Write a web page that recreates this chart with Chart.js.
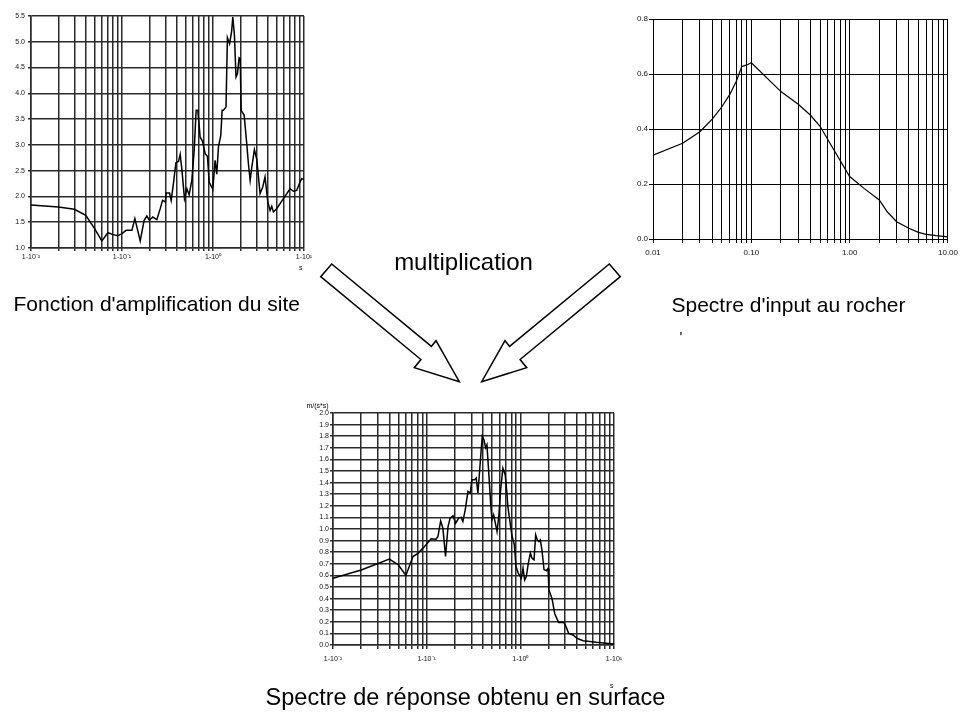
<!DOCTYPE html>
<html>
<head>
<meta charset="utf-8">
<script src="https://cdn.jsdelivr.net/npm/chart.js@4/dist/chart.umd.min.js"></script>
<style>
html, body { margin: 0; padding: 0; background: #fff; }
body { width: 963px; height: 718px; position: relative; overflow: hidden;
       font-family: "Liberation Sans", Arial, sans-serif; color: #000; }
canvas { position: absolute; }
.t { position: absolute; white-space: nowrap; line-height: 1; }
</style>
</head>
<body>
<canvas id="amp" width="320" height="275" style="left:0px;top:0px"></canvas>
<canvas id="inp" width="363" height="275" style="left:600px;top:0px"></canvas>
<canvas id="res" width="350" height="300" style="left:290px;top:380px"></canvas>

<svg width="963" height="718" style="position:absolute;left:0;top:0">
  <polygon points="331.7,264 431.4,346.4 436,340.7 459.3,381.7 414.3,367.7 420.9,359.5 320.7,276.7"
           fill="#fff" stroke="#000" stroke-width="1.5" stroke-linejoin="miter"/>
  <polygon points="609.3,264 509.6,346.4 505,340.7 481.7,381.7 526.7,367.7 520.1,359.5 620.3,276.7"
           fill="#fff" stroke="#000" stroke-width="1.5" stroke-linejoin="miter"/>
</svg>

<div class="t" style="left:263.5px;width:400px;text-align:center;top:250.4px;font-size:24px">multiplication</div>
<div class="t" style="left:13.5px;top:292.9px;font-size:21px">Fonction d'amplification du site</div>
<div class="t" style="left:671.5px;top:293.9px;font-size:21px">Spectre d'input au rocher</div>
<div class="t" style="left:679.5px;top:328.7px;font-size:15px">'</div>
<div class="t" style="left:165.5px;width:600px;text-align:center;top:686.4px;font-size:23.5px">Spectre de réponse obtenu en surface</div>
<div class="t" style="left:299px;top:264px;font-size:7px">s</div>
<div class="t" style="left:610px;top:682px;font-size:7px">s</div>
<div class="t" style="left:292.5px;width:50px;text-align:center;top:402px;font-size:7px">m/(s*s)</div>

<script>
// grid positions of the log period axes (0.01 .. 10 s)
const logGrid = [0.01, 0.02, 0.03, 0.04, 0.05, 0.06, 0.07, 0.08, 0.09,
                 0.1, 0.2, 0.3, 0.4, 0.5, 0.6, 0.7, 0.8, 0.9,
                 1, 2, 3, 4, 5, 6, 7, 8, 9, 10];
const decades = [0.01, 0.1, 1, 10];
const powLabels = ['1-10\u207B\u00B2', '1-10\u207B\u00B9', '1-10\u2070', '1-10\u00B9'];
const decLabels = ['0.01', '0.10', '1.00', '10.00'];

// amplification function of the site
const ampX = [0.01, 0.02, 0.03, 0.04, 0.05, 0.06, 0.07, 0.08, 0.09, 0.1,
              0.111, 0.1285, 0.1385, 0.1585, 0.175, 0.1876, 0.2, 0.218, 0.2415, 0.263,
              0.279, 0.30, 0.306, 0.333, 0.347, 0.368, 0.391, 0.418, 0.436, 0.455,
              0.486, 0.516, 0.547, 0.585, 0.621, 0.653, 0.681, 0.722, 0.766, 0.820,
              0.869, 0.907, 0.995, 1.055, 1.10, 1.148, 1.218, 1.26, 1.30, 1.39,
              1.44, 1.52, 1.60, 1.65, 1.72, 1.79, 1.856, 1.935, 1.99, 2.04,
              2.20, 2.35, 2.45, 2.56, 2.67, 2.85, 3.03, 3.29, 3.52, 3.73,
              4.0, 4.24, 4.42, 4.61, 5.01, 5.94, 7.03, 7.65, 8.32, 9.04,
              9.44, 10];
const ampY = [1.834, 1.795, 1.75, 1.634, 1.375, 1.136, 1.297, 1.259, 1.239, 1.278,
              1.343, 1.343, 1.569, 1.136, 1.537, 1.62, 1.537, 1.60, 1.55, 1.763,
              1.924, 1.892, 2.067, 2.067, 1.924, 2.26, 2.655, 2.68, 2.816, 2.52,
              1.957, 2.15, 2.034, 2.31, 2.894, 3.67, 3.67, 3.15, 3.075, 2.83,
              2.78, 2.28, 2.138, 2.70, 2.43, 2.96, 3.185, 3.67, 3.67, 3.734,
              5.08, 4.96, 5.19, 5.48, 5.124, 4.316, 4.38, 4.69, 4.67, 3.67,
              3.573, 3.02, 2.635, 2.31, 2.57, 2.907, 2.713, 2.054, 2.183, 2.377,
              1.892, 1.73, 1.808, 1.70, 1.763, 1.957, 2.15, 2.10, 2.118, 2.28,
              2.345, 2.325];
const ampYTicks = [1.0, 1.5, 2.0, 2.5, 3.0, 3.5, 4.0, 4.5, 5.0, 5.5];

// input spectrum on rock
const inpX = [0.01, 0.02, 0.03, 0.04, 0.05, 0.06, 0.07, 0.08, 0.09, 0.1,
              0.2, 0.3, 0.4, 0.5, 0.646, 1.0, 1.40, 2.0, 2.41, 3.0,
              4.0, 5.0, 6.0, 7.6, 10];
const inpY = [0.305, 0.348, 0.39, 0.436, 0.48, 0.524, 0.572, 0.627, 0.633, 0.641,
              0.536, 0.49, 0.45, 0.41, 0.342, 0.227, 0.184, 0.142, 0.099, 0.063,
              0.039, 0.024, 0.017, 0.012, 0.008];
const inpYTicks = [0.0, 0.2, 0.4, 0.6, 0.8];

// response spectrum at the surface
const resX = [0.01, 0.02, 0.04, 0.05, 0.06, 0.0714, 0.0808, 0.0913, 0.1016, 0.1116,
              0.126, 0.132, 0.141, 0.149, 0.159, 0.169, 0.178, 0.191, 0.204, 0.2195,
              0.234, 0.2435, 0.258, 0.276, 0.292, 0.304, 0.325, 0.338, 0.3525, 0.367,
              0.392, 0.409, 0.426, 0.440, 0.458, 0.482, 0.498, 0.519, 0.541, 0.564,
              0.591, 0.616, 0.652, 0.689, 0.719, 0.736, 0.779, 0.817, 0.864, 0.899,
              0.950, 1.025, 1.068, 1.112, 1.159, 1.217, 1.279, 1.333, 1.40, 1.458,
              1.52, 1.58, 1.635, 1.70, 1.79, 1.895, 1.975, 2.02, 2.18, 2.33,
              2.56, 2.85, 2.97, 3.28, 3.65, 4.03, 4.67, 6.47, 10];
const resY = [0.576, 0.647, 0.74, 0.69, 0.60, 0.763, 0.79, 0.835, 0.878, 0.915,
              0.912, 0.935, 1.07, 1.007, 0.763, 1.02, 1.094, 1.114, 1.05, 1.094,
              1.10, 1.065, 1.165, 1.324, 1.31, 1.424, 1.424, 1.439, 1.31, 1.496,
              1.80, 1.77, 1.70, 1.727, 1.51, 1.223, 1.079, 1.122, 1.05, 0.978,
              1.122, 1.338, 1.525, 1.468, 1.309, 1.194, 1.05, 0.935, 0.863, 0.676,
              0.619, 0.576, 0.662, 0.561, 0.59, 0.705, 0.791, 0.748, 0.734, 0.95,
              0.906, 0.892, 0.906, 0.82, 0.65, 0.64, 0.66, 0.475, 0.40, 0.27,
              0.195, 0.195, 0.187, 0.10, 0.086, 0.058, 0.037, 0.023, 0.009];
const resYTicks = [0.0, 0.1, 0.2, 0.3, 0.4, 0.5, 0.6, 0.7, 0.8, 0.9, 1.0,
                   1.1, 1.2, 1.3, 1.4, 1.5, 1.6, 1.7, 1.8, 1.9, 2.0];

const FONT = '"Liberation Sans", Arial, sans-serif';

function drawChart(id, o) {
  new Chart(document.getElementById(id), {
    type: 'line',
    data: {
      datasets: [{
        data: o.xs.map((x, i) => ({ x: x, y: o.ys[i] })),
        borderColor: '#000', borderWidth: o.lw, pointRadius: 0, tension: 0, fill: false
      }]
    },
    options: {
      responsive: false, animation: false, events: [],
      layout: { padding: o.pad },
      plugins: { legend: { display: false }, tooltip: { enabled: false } },
      scales: {
        x: {
          type: 'logarithmic', min: 0.01, max: 10,
          afterBuildTicks: s => { s.ticks = logGrid.map(v => ({ value: v })); },
          afterFit: s => { s.height = o.xh; },
          ticks: {
            autoSkip: false, maxRotation: 0, minRotation: 0, padding: o.xpad, color: '#111',
            font: { family: FONT, size: o.fs },
            callback: v => {
              const j = decades.findIndex(d => Math.abs(d - v) < 1e-9);
              return j < 0 ? '' : o.xLabels[j];
            }
          },
          grid: { color: o.gc, lineWidth: o.gw, tickLength: o.xtl },
          border: { color: o.gc, width: o.gw }
        },
        y: {
          min: o.yTicks[0], max: o.yTicks[o.yTicks.length - 1],
          afterBuildTicks: s => { s.ticks = o.yTicks.map(v => ({ value: v })); },
          afterFit: s => { s.width = o.yw; },
          ticks: {
            autoSkip: false, padding: o.ypad, color: '#111',
            font: { family: FONT, size: o.fs },
            callback: v => v.toFixed(1)
          },
          grid: { color: o.gc, lineWidth: o.gw, tickLength: o.ytl },
          border: { color: o.gc, width: o.gw }
        }
      }
    }
  });
}

drawChart('amp', {
  xs: ampX, ys: ampY, yTicks: ampYTicks, xLabels: powLabels,
  pad: { left: 0, right: 16, top: 16, bottom: 0 }, yw: 31, xh: 27,
  fs: 7, lw: 1.5, gc: '#2a2a2a', gw: 1.5, xtl: 3, ytl: 3, xpad: 2, ypad: 3
});

drawChart('inp', {
  xs: inpX, ys: inpY, yTicks: inpYTicks, xLabels: decLabels,
  pad: { left: 0, right: 11, top: 19, bottom: 0 }, yw: 53, xh: 36,
  fs: 8, lw: 1.2, gc: '#000', gw: 1, xtl: 4, ytl: 4, xpad: 5, ypad: 1
});

drawChart('res', {
  xs: resX, ys: resY, yTicks: resYTicks, xLabels: powLabels,
  pad: { left: 0, right: 26, top: 33, bottom: 0 }, yw: 43, xh: 35,
  fs: 7, lw: 1.5, gc: '#2a2a2a', gw: 1.5, xtl: 4, ytl: 3, xpad: 6, ypad: 1
});
</script>
</body>
</html>
